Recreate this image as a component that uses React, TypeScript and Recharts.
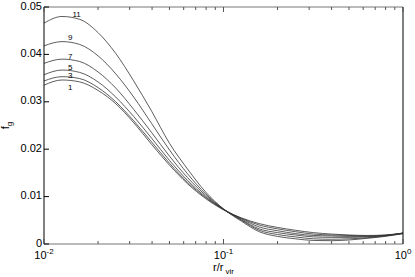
import React from "react";
import { LineChart, Line, XAxis, YAxis, ReferenceDot, Label } from "recharts";

// r / r_vir sample points (log spaced)
const rValues = [
  0.01, 0.0126, 0.0158, 0.02, 0.0251, 0.0316, 0.0398, 0.0501, 0.0631, 0.0794, 0.1,
  0.126, 0.158, 0.2, 0.251, 0.316, 0.398, 0.501, 0.631, 0.794, 1,
];

const f11 = [0.0466, 0.048, 0.0474, 0.0446, 0.0402, 0.0344, 0.028, 0.0212, 0.0158, 0.011, 0.0074, 0.0048, 0.0026, 0.0016, 0.0011, 0.00075, 0.0007, 0.00085, 0.0012, 0.0016, 0.0022];
const f9 = [0.0418, 0.0427, 0.0421, 0.0397, 0.0359, 0.031, 0.0254, 0.0198, 0.0148, 0.0106, 0.0074, 0.005, 0.0029, 0.002, 0.0015, 0.0011, 0.001, 0.0011, 0.0013, 0.0017, 0.0022];
const f7 = [0.0381, 0.039, 0.0385, 0.0363, 0.0329, 0.0284, 0.0235, 0.0185, 0.014, 0.0103, 0.0073, 0.0051, 0.0032, 0.0024, 0.0019, 0.0015, 0.0014, 0.0014, 0.0015, 0.00175, 0.00225];
const f5 = [0.0357, 0.0367, 0.0362, 0.0342, 0.031, 0.0269, 0.0223, 0.0176, 0.0134, 0.01, 0.0073, 0.0053, 0.0036, 0.0028, 0.0022, 0.0018, 0.0017, 0.0016, 0.0016, 0.0018, 0.0023];
const f3 = [0.0344, 0.0353, 0.0349, 0.033, 0.03, 0.026, 0.0215, 0.017, 0.013, 0.0098, 0.0073, 0.0054, 0.004, 0.0032, 0.0026, 0.0021, 0.0019, 0.0018, 0.0017, 0.00185, 0.0023];
const f1 = [0.0335, 0.0346, 0.0342, 0.0324, 0.0296, 0.0256, 0.021, 0.0166, 0.0127, 0.0096, 0.0072, 0.0055, 0.0043, 0.0035, 0.0029, 0.0024, 0.0021, 0.0019, 0.0018, 0.0019, 0.0023];

const seriesNames = ["11", "9", "7", "5", "3", "1"];
const seriesValues = [f11, f9, f7, f5, f3, f1];

// curve labels, placed in data space near the peaks
const labelX = [0.0152, 0.014, 0.014, 0.014, 0.014, 0.014];
const labelY = [0.0485, 0.0437, 0.0397, 0.0373, 0.0357, 0.033];

const xTicks = [
  0.01, 0.02, 0.03, 0.04, 0.05, 0.06, 0.07, 0.08, 0.09,
  0.1, 0.2, 0.3, 0.4, 0.5, 0.6, 0.7, 0.8, 0.9, 1,
];
const yTicks = [0, 0.01, 0.02, 0.03, 0.04, 0.05];
const yTickLabels = ["0", "0.01", "0.02", "0.03", "0.04", "0.05"];

const data = rValues.map((r, i) => {
  const row: { [k: string]: number } = { r };
  seriesNames.forEach((n, j) => {
    row["s" + n] = seriesValues[j][i];
  });
  return row;
});

const FONT = "'Liberation Sans', Arial, Helvetica, sans-serif";
const LINE = "#333";

const isDecade = (v: number) => Math.abs(Math.log10(v) - Math.round(Math.log10(v))) < 1e-6;

const BottomTick = (props: any) => {
  const { x, y, payload } = props;
  const major = isDecade(payload.value);
  const exp = Math.round(Math.log10(payload.value));
  return (
    <g>
      <line x1={x} x2={x} y1={y} y2={y - (major ? 5 : 3)} stroke="#555" strokeWidth={1} />
      {major && (
        <text x={x} y={y + 15} textAnchor="middle" fontSize={11} fontFamily={FONT} fill="#000">
          10
          <tspan dy={-5} fontSize={8}>
            {exp === 0 ? "0" : "-" + Math.abs(exp)}
          </tspan>
        </text>
      )}
    </g>
  );
};

const TopTick = (props: any) => {
  const { x, y, payload } = props;
  const major = isDecade(payload.value);
  return <line x1={x} x2={x} y1={y} y2={y + (major ? 5 : 3)} stroke="#555" strokeWidth={1} />;
};

const LeftTick = (props: any) => {
  const { x, y, payload, index } = props;
  return (
    <g>
      <line x1={x} x2={x + 5} y1={y} y2={y} stroke="#000" strokeWidth={1} />
      <text x={x - 2} y={y + 2.5} textAnchor="end" fontSize={11} fontFamily={FONT} fill="#000">
        {yTickLabels[index] ?? String(payload.value)}
      </text>
    </g>
  );
};

const RightTick = (props: any) => {
  const { x, y } = props;
  return <line x1={x} x2={x - 5} y1={y} y2={y} stroke="#000" strokeWidth={1} />;
};

const renderYLabel = (props: any) => {
  const vb = props.viewBox;
  const cx = vb.x + 9;
  const cy = vb.y + vb.height / 2;
  return (
    <text x={cx} y={cy} transform={`rotate(-90 ${cx} ${cy})`} textAnchor="middle" fontSize={11} fontFamily={FONT} fill="#000">
      f
      <tspan dy={3} fontSize={8}>
        g
      </tspan>
    </text>
  );
};

const renderXLabel = (props: any) => {
  const vb = props.viewBox;
  const cx = vb.x + vb.width / 2;
  return (
    <text x={cx} y={vb.y + 27} textAnchor="middle" fontSize={11} fontFamily={FONT} fill="#000">
      r/r
      <tspan dx={2} dy={3} fontSize={8}>
        vir
      </tspan>
    </text>
  );
};

export default function App() {
  return (
    <div style={{ position: "absolute", left: 0, top: 0, width: 415, height: 277, background: "#fff" }}>
      <LineChart width={415} height={277} data={data} margin={{ top: 0, right: 0, bottom: 0, left: 0 }}>
        <XAxis
          xAxisId="b"
          dataKey="r"
          type="number"
          scale="log"
          domain={[0.01, 1]}
          allowDataOverflow
          ticks={xTicks}
          interval={0}
          tick={<BottomTick />}
          tickLine={false}
          tickSize={0}
          tickMargin={0}
          height={33}
          axisLine={{ stroke: "#777", strokeWidth: 1 }}
        >
          <Label content={renderXLabel} />
        </XAxis>
        <XAxis
          xAxisId="t"
          orientation="top"
          dataKey="r"
          type="number"
          scale="log"
          domain={[0.01, 1]}
          allowDataOverflow
          ticks={xTicks}
          interval={0}
          tick={<TopTick />}
          tickLine={false}
          tickSize={0}
          tickMargin={0}
          height={7}
          axisLine={{ stroke: "#777", strokeWidth: 1 }}
        />
        <YAxis
          yAxisId="l"
          type="number"
          domain={[0, 0.05]}
          ticks={yTicks}
          interval={0}
          tick={<LeftTick />}
          tickLine={false}
          tickSize={0}
          tickMargin={0}
          width={44}
          axisLine={{ stroke: "#000", strokeWidth: 1 }}
        >
          <Label content={renderYLabel} />
        </YAxis>
        <YAxis
          yAxisId="r"
          orientation="right"
          type="number"
          domain={[0, 0.05]}
          ticks={yTicks}
          interval={0}
          tick={<RightTick />}
          tickLine={false}
          tickSize={0}
          tickMargin={0}
          width={12}
          axisLine={{ stroke: "#000", strokeWidth: 1 }}
        />
        {seriesNames.map((n) => (
          <Line
            key={n}
            xAxisId="b"
            yAxisId="l"
            type="monotone"
            dataKey={"s" + n}
            stroke={LINE}
            strokeWidth={0.8}
            dot={false}
            isAnimationActive={false}
          />
        ))}
        {seriesNames.map((n, i) => (
          <ReferenceDot
            key={"lbl" + n}
            xAxisId="b"
            yAxisId="l"
            x={labelX[i]}
            y={labelY[i]}
            r={1}
            fill="none"
            stroke="none"
            label={{ value: n, position: "center", fontSize: 8, fontFamily: FONT, fill: "#000" }}
          />
        ))}
      </LineChart>
    </div>
  );
}
